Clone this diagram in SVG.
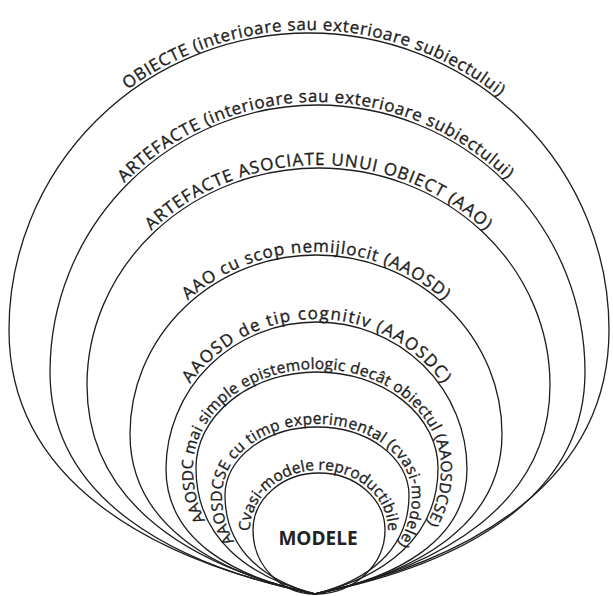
<svg xmlns="http://www.w3.org/2000/svg" xmlns:xlink="http://www.w3.org/1999/xlink" width="613" height="596" viewBox="0 0 613 596">
<style>
.c{fill:none;stroke:#1e1e1e;stroke-width:1.3}
.t{font-family:"Open Sans","Liberation Sans",sans-serif;fill:#1e1e1e;stroke:#1e1e1e;stroke-width:0.35;font-size:17px}
.s{font-size:15.5px}
.m{font-family:"Open Sans","Liberation Sans",sans-serif;font-weight:bold;font-size:19px;fill:#222}
</style>
<defs>
<path id="p1" d="M6,330 A303,300 0 0 1 309,30 A303,300 0 0 1 612,330"/>
<path id="p2" d="M47,372 A270.5,270 0 0 1 317.5,102 A270.5,270 0 0 1 588,372"/>
<path id="p3" d="M84,385 A234.5,220 0 0 1 318.5,165 A234.5,220 0 0 1 553,385"/>
<path id="p4" d="M127,434 A189,182 0 0 1 316,252 A189,182 0 0 1 505,434"/>
<path id="p5" d="M163,469 A153.5,150 0 0 1 316.5,319 A153.5,150 0 0 1 470,469"/>
<path id="p6" d="M315,594 C249.1,577.6 193,539.8 193,468 A124,99 0 0 1 317,369 A124,99 0 0 1 441,468 C441,539.8 383,577.6 315,594"/>
<path id="p7" d="M315,594 C264.8,581.1 222,551.4 222,495 A95,71 0 0 1 317,424 A95,71 0 0 1 412,495 C412,551.4 367.4,581.1 315,594"/>
<path id="p8" d="M319,597 C283,597 250,567 250,530 A69,60 0 0 1 319,470 A69,60 0 0 1 388,530 C388,567 355,597 319,597"/>
</defs>
<g id="connectors"></g>
<g id="n1"><path class="c" d="M315,594 C149.8,559.7 9,480.5 9,330 A300,297 0 0 1 309,33 A300,297 0 0 1 609,330 C609,480.5 473.8,559.7 315,594 Z"/>
<text class="t"><textPath xlink:href="#p1" href="#p1" startOffset="50.6%" text-anchor="middle" textLength="400" lengthAdjust="spacing">OBIECTE (interioare sau exterioare subiectului)</textPath></text></g>
<g id="n2"><path class="c" d="M315,594 C171.9,565.1 50,498.5 50,372 A267.5,267 0 0 1 317.5,105 A267.5,267 0 0 1 585,372 C585,498.5 460.8,565.1 315,594 Z"/>
<text class="t"><textPath xlink:href="#p2" href="#p2" startOffset="49.7%" text-anchor="middle" textLength="425" lengthAdjust="spacing">ARTEFACTE (interioare sau exterioare subiectului)</textPath></text></g>
<g id="n3"><path class="c" d="M315,594 C191.9,566.8 87,504.1 87,385 A231.5,217 0 0 1 318.5,168 A231.5,217 0 0 1 550,385 C550,504.1 441.9,566.8 315,594 Z"/>
<text class="t"><textPath xlink:href="#p3" href="#p3" startOffset="50%" text-anchor="middle" textLength="368" lengthAdjust="spacing">ARTEFACTE ASOCIATE UNUI OBIECT (AAO)</textPath></text></g>
<g id="n4"><path class="c" d="M315,594 C215.1,573.2 130,525.2 130,434 A186,179 0 0 1 316,255 A186,179 0 0 1 502,434 C502,525.2 416,573.2 315,594 Z"/>
<text class="t"><textPath xlink:href="#p4" href="#p4" startOffset="50%" text-anchor="middle" textLength="280" lengthAdjust="spacing">AAO cu scop nemijlocit (AAOSD)</textPath></text></g>
<g id="n5"><path class="c" d="M315,594 C234.5,577.7 166,540.3 166,469 A150.5,147 0 0 1 316.5,322 A150.5,147 0 0 1 467,469 C467,540.3 397.1,577.7 315,594 Z"/>
<text class="t"><textPath xlink:href="#p5" href="#p5" startOffset="50%" text-anchor="middle" textLength="295" lengthAdjust="spacing">AAOSD de tip cognitiv (AAOSDC)</textPath></text></g>
<g id="n6"><path class="c" d="M315,594 C250.7,577.6 196,539.8 196,468 A121,96 0 0 1 317,372 A121,96 0 0 1 438,468 C438,539.8 381.4,577.6 315,594 Z"/>
<text class="t s"><textPath xlink:href="#p6" href="#p6" startOffset="50%" text-anchor="middle" textLength="463" lengthAdjust="spacing">AAOSDC mai simple epistemologic decât obiectul (AAOSDCSE)</textPath></text></g>
<g id="n7"><path class="c" d="M315,594 C266.4,581.1 225,551.4 225,495 A92,68 0 0 1 317,427 A92,68 0 0 1 409,495 C409,551.4 365.8,581.1 315,594 Z"/>
<text class="t s"><textPath xlink:href="#p7" href="#p7" startOffset="50%" text-anchor="middle" textLength="362" lengthAdjust="spacing">AAOSDCSE cu timp experimental (cvasi-modele)</textPath></text></g>
<g id="n8"><path class="c" d="M315,594 C280.9,594 253,565.2 253,530 A66,57 0 0 1 319,473 A66,57 0 0 1 385,530 C385,565.2 353.5,594 315,594 Z"/>
<text class="t s"><textPath xlink:href="#p8" href="#p8" startOffset="50%" text-anchor="middle" textLength="205" lengthAdjust="spacing">Cvasi-modele reproductibile</textPath></text>
<text class="m" x="318" y="545" text-anchor="middle">MODELE</text></g>
</svg>
